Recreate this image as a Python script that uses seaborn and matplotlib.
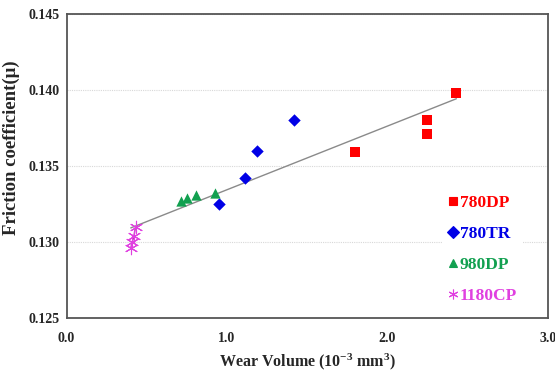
import numpy as np
import pandas as pd
import matplotlib
matplotlib.use("Agg")
import matplotlib.pyplot as plt
from matplotlib.lines import Line2D
import seaborn as sns

# Wear volume (1e-3 mm^3) and friction coefficient per steel grade
dp780_x = [2.43, 2.25, 2.25, 1.80]
dp780_y = [0.1398, 0.1380, 0.1371, 0.1359]
tr780_x = [1.42, 1.19, 1.114, 0.95]
tr780_y = [0.1380, 0.1360, 0.1342, 0.1325]
dp980_x = [0.712, 0.753, 0.805, 0.923]
dp980_y = [0.1327, 0.1329, 0.1331, 0.1332]
cp1180_x = [0.43, 0.42, 0.41, 0.40]
cp1180_y = [0.1310, 0.1304, 0.1300, 0.1296]

grades = ["780DP", "780TR", "980DP", "1180CP"]
colors = {"780DP": "#FF0000", "780TR": "#0000E6", "980DP": "#12A050", "1180CP": "#E040E0"}
markers = {"780DP": "s", "780TR": "D", "980DP": "^", "1180CP": (6, 2, 0)}
sizes = {"780DP": 55, "780TR": 40, "980DP": 55, "1180CP": 80}

frames = []
for g, xs, ys in zip(grades, [dp780_x, tr780_x, dp980_x, cp1180_x],
                     [dp780_y, tr780_y, dp980_y, cp1180_y]):
    frames.append(pd.DataFrame({"wear": xs, "mu": ys, "grade": g}))
df = pd.concat(frames, ignore_index=True)

sns.set_theme(style="white")
plt.rcParams["font.family"] = ["Liberation Serif", "DejaVu Serif"]
plt.rcParams["mathtext.fontset"] = "custom"
plt.rcParams["mathtext.rm"] = "Liberation Serif:bold"
plt.rcParams["mathtext.it"] = "Liberation Serif:bold"
plt.rcParams["mathtext.default"] = "rm"

fig = plt.figure(figsize=(5.55, 3.74), dpi=100)
ax = fig.add_axes([0.120, 0.150, 0.867, 0.8126])

# overall linear trend across all grades
sns.regplot(data=df, x="wear", y="mu", ax=ax, ci=None, scatter=False,
            line_kws=dict(color="#8a8a8a", lw=1.0, zorder=2))

# line joining the 1180CP measurements
cp = df[df.grade == "1180CP"].sort_values("wear")
ax.plot(cp["wear"], cp["mu"], color="#B030B0", lw=1.0, zorder=3)

for g in grades:
    sub = df[df.grade == g]
    sns.scatterplot(data=sub, x="wear", y="mu", ax=ax, color=colors[g],
                    marker=markers[g], s=sizes[g],
                    linewidth=0 if g != "1180CP" else 0.8,
                    edgecolor=colors[g], zorder=4, legend=False)

ax.set_xlim(0, 3.0)
ax.set_ylim(0.125, 0.145)
ax.set_xticks([0.0, 1.0, 2.0, 3.0])
ax.set_yticks([0.125, 0.130, 0.135, 0.140, 0.145])
ax.set_xticklabels(["0.0", "1.0", "2.0", "3.0"], fontweight="bold", fontsize=10)
ax.set_yticklabels(["0.125", "0.130", "0.135", "0.140", "0.145"], fontweight="bold", fontsize=10)
ax.tick_params(axis="x", direction="in", length=3, pad=10, color="#999999", width=0.8)
ax.tick_params(axis="y", length=0, pad=5)
ax.yaxis.grid(True, color="#d8d8d8", lw=0.8, ls=(0, (1, 1)))
ax.xaxis.grid(False)
for sp in ax.spines.values():
    sp.set_color("#555555")
    sp.set_linewidth(1.3)

ax.set_xlabel("Wear Volume (10$^{-3}$ mm$^{3}$)", fontweight="bold", fontsize=11.5)
ax.xaxis.set_label_coords(0.5, -0.112)
ax.set_ylabel("Friction coefficient(\u03bc)", fontweight="bold", fontsize=13.5)
ax.yaxis.set_label_coords(-0.097, 0.56)

handles = [Line2D([], [], ls="none", marker=markers[g], color=colors[g],
                  markersize=6 if g != "1180CP" else 7, markeredgewidth=0.8)
           for g in grades]
leg = ax.legend(handles, grades, loc="center left", bbox_to_anchor=(0.765, 0.225),
                frameon=True, fancybox=False, edgecolor="none", facecolor="white",
                framealpha=1, handlelength=0.5, handletextpad=0.15, labelspacing=0.85,
                borderpad=0.3, prop=dict(weight="bold", size=12.5))
for t, g in zip(leg.get_texts(), grades):
    t.set_color(colors[g])

fig.savefig("out.png", dpi=100)
